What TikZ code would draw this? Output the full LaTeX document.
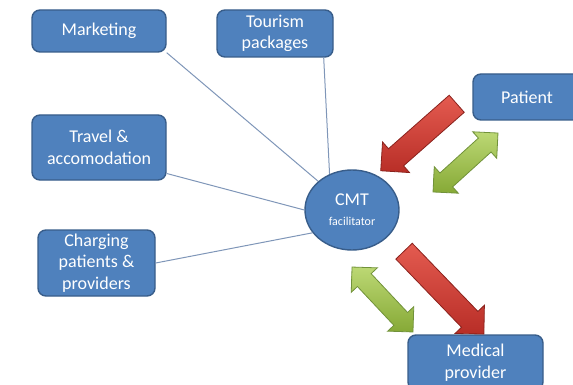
\documentclass[tikz,border=0pt]{standalone}
\usepackage{fontspec}
\setmainfont{Carlito}
\usepackage{tikz}
\usetikzlibrary{positioning}
\usetikzlibrary{calc,shapes.geometric,shapes.arrows}

\definecolor{BoxBlue}{HTML}{4F81BD}
\definecolor{BoxEdge}{HTML}{385D8A}
\definecolor{LinkGray}{HTML}{7F96B8}
\definecolor{RedDark}{HTML}{B82E27}
\definecolor{RedLight}{HTML}{E45B50}
\definecolor{GreenDark}{HTML}{86A936}
\definecolor{GreenLight}{HTML}{BCD874}
\definecolor{GreenEdge}{HTML}{71923A}

\tikzset{
	task/.style={rounded corners=4pt, draw=BoxEdge, line width=0.7pt, fill=BoxBlue,
		text=white, align=center, inner sep=1pt, font=\fontsize{9}{10.8}\selectfont},
	hub/.style={ellipse, draw=BoxEdge, line width=0.7pt, fill=BoxBlue, text=white,
		align=center, inner sep=0pt, minimum width=47pt, minimum height=40pt},
	link/.style={draw=LinkGray, line width=0.5pt},
	flow/.style={single arrow, single arrow head extend=4.5pt, single arrow tip angle=90,
		inner sep=5.5pt, draw=RedDark!75!black, line width=0.4pt,
		top color=RedLight, bottom color=RedDark},
	swap/.style={double arrow, double arrow head extend=4.25pt, double arrow tip angle=90,
		inner sep=4.5pt, draw=GreenEdge, line width=0.4pt,
		top color=GreenLight, bottom color=GreenDark},
}

\begin{document}
\begin{tikzpicture}[x=0.5pt, y=-0.5pt]
		
		% ---------------------
		% Proper size --- Bounding box
		\useasboundingbox (0,0) rectangle (573,385);
		
		% ---------------------
		% Facilitator & its tasks
		
		\node[hub] (Cmt) at (352,210) {\fontsize{9}{9}\selectfont CMT\\[-2pt]{\fontsize{6}{7}\selectfont facilitator}};
		
		\node[task, minimum width=67pt, minimum height=21pt] (Mkt) at (99,31) {Marketing};
		\node[task, minimum width=58pt, minimum height=23.5pt] (Tour) at (275,33.5) {Tourism\\packages};
		\node[task, minimum width=67pt, minimum height=32.5pt] (Travel) at (99,147.5) {Travel \&\\accomodation};
		\node[task, minimum width=58.5pt, minimum height=33pt] (Charge) at (96.5,263) {Charging\\patients \&\\providers};
		
		\node[task, minimum width=54pt, minimum height=23pt] (Patient) at (527,97) {Patient};
		\node[task, minimum width=67.5pt, minimum height=27.5pt] (Medical) at (475.5,362.5) {Medical\\provider};
		
		\path (Tour.south east) +(-10,0) coordinate (TourFoot);
		
		% ---------------------
		% Links to the facilitator
		\draw[link] (Mkt.south east) -- (Cmt);
		\draw[link] (TourFoot) -- (Cmt.122);
		\draw[link] (Travel.-21) -- (Cmt.180);
		\draw[link] (Charge.east) -- (Cmt.210);
		
		% ---------------------
		% Block arrows
		\coordinate (RedTailA) at (461,100);
		\coordinate (RedTipA) at (385,167);
		\coordinate (GreenA1) at (498,133);
		\coordinate (GreenA2) at (433,192);
		
		\coordinate (RedTailB) at (400,247);
		\coordinate (RedTipB) at (480,330);
		\coordinate (GreenB1) at (352,267);
		\coordinate (GreenB2) at (413,332);
		
		\path let \p1=($(RedTipA)-(RedTailA)$), \n1={atan2(\y1,\x1)}, \n2={veclen(\x1,\y1)} in
			node[flow, rotate=\n1, minimum height={\n2*1pt}] (ToCmt) at ($(RedTailA)!0.5!(RedTipA)$) {};
		\path let \p1=($(GreenA2)-(GreenA1)$), \n1={atan2(\y1,\x1)}, \n2={veclen(\x1,\y1)} in
			node[swap, rotate=\n1, minimum height={\n2*1pt}] (PatientCmt) at ($(GreenA1)!0.5!(GreenA2)$) {};
		\path let \p1=($(RedTipB)-(RedTailB)$), \n1={atan2(\y1,\x1)}, \n2={veclen(\x1,\y1)} in
			node[flow, rotate=\n1, minimum height={\n2*1pt}] (ToMedical) at ($(RedTailB)!0.5!(RedTipB)$) {};
		\path let \p1=($(GreenB2)-(GreenB1)$), \n1={atan2(\y1,\x1)}, \n2={veclen(\x1,\y1)} in
			node[swap, rotate=\n1, minimum height={\n2*1pt}] (MedicalCmt) at ($(GreenB1)!0.5!(GreenB2)$) {};
		
\end{tikzpicture}
\end{document}
